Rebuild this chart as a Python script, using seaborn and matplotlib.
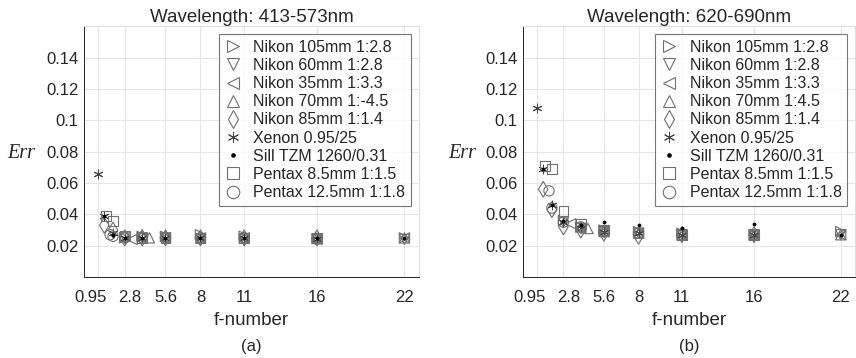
import numpy as np
import pandas as pd
import matplotlib
matplotlib.use("Agg")
import matplotlib.pyplot as plt
import matplotlib.transforms as mtransforms
import seaborn as sns
from matplotlib.lines import Line2D

sns.set_style("white")
plt.rcParams['font.family'] = ['Liberation Sans', 'DejaVu Sans']

# ---- data ----
lens_names = ["Nikon 105mm 1:2.8", "Nikon 60mm 1:2.8", "Nikon 35mm 1:3.3",
              "Nikon 70mm 1:4.5", "Nikon 85mm 1:1.4", "Xenon 0.95/25",
              "Sill TZM 1260/0.31", "Pentax 8.5mm 1:1.5", "Pentax 12.5mm 1:1.8"]
legend_a = ["Nikon 105mm 1:2.8", "Nikon 60mm 1:2.8", "Nikon 35mm 1:3.3",
            "Nikon 70mm 1:-4.5", "Nikon 85mm 1:1.4", "Xenon 0.95/25",
            "Sill TZM 1260/0.31", "Pentax 8.5mm 1:1.5", "Pentax 12.5mm 1:1.8"]

stops_n105 = [2.8, 4, 5.6, 8, 11, 16, 22]
stops_n60 = [2.8, 4, 5.6, 8, 11, 16, 22]
stops_n35 = [3.3, 4, 5.6, 8, 11, 16, 22]
stops_n70 = [4, 4.5, 5.6, 8, 11, 16, 22]
stops_n85 = [1.4, 2, 2.8, 4, 5.6, 8, 11, 16]
stops_xen = [0.95, 1.4, 2, 2.8, 4, 5.6, 8, 11, 16]
stops_sill = [1.4, 2, 2.8, 4, 5.6, 8, 11, 16, 22]
stops_p85 = [1.5, 2, 2.8, 4, 5.6, 8, 11, 16]
stops_p125 = [1.8, 2, 2.8, 4, 5.6, 8, 11, 16]

# Panel (a): 413-573nm
err_a_n105 = [0.025, 0.026, 0.026, 0.027, 0.026, 0.0245, 0.025]
err_a_n60 = [0.025, 0.025, 0.025, 0.024, 0.024, 0.024, 0.024]
err_a_n35 = [0.024, 0.025, 0.025, 0.025, 0.025, 0.024, 0.025]
err_a_n70 = [0.027, 0.025, 0.026, 0.025, 0.025, 0.025, 0.025]
err_a_n85 = [0.033, 0.030, 0.025, 0.025, 0.025, 0.025, 0.025, 0.025]
err_a_xen = [0.066, 0.039, 0.028, 0.025, 0.025, 0.025, 0.025, 0.025, 0.024]
err_a_sill = [0.039, 0.027, 0.025, 0.025, 0.025, 0.025, 0.025, 0.025, 0.025]
err_a_p85 = [0.039, 0.036, 0.026, 0.025, 0.025, 0.025, 0.025, 0.025]
err_a_p125 = [0.027, 0.026, 0.025, 0.025, 0.025, 0.025, 0.025, 0.024]

# Panel (b): 620-690nm
err_b_n105 = [0.036, 0.032, 0.030, 0.029, 0.028, 0.027, 0.029]
err_b_n60 = [0.035, 0.031, 0.029, 0.028, 0.027, 0.027, 0.027]
err_b_n35 = [0.034, 0.031, 0.029, 0.028, 0.027, 0.027, 0.027]
err_b_n70 = [0.032, 0.031, 0.029, 0.028, 0.027, 0.027, 0.027]
err_b_n85 = [0.056, 0.043, 0.032, 0.030, 0.028, 0.026, 0.027, 0.027]
err_b_xen = [0.108, 0.069, 0.046, 0.035, 0.031, 0.029, 0.028, 0.027, 0.027]
err_b_sill = [0.069, 0.046, 0.036, 0.033, 0.035, 0.033, 0.031, 0.034, 0.027]
err_b_p85 = [0.071, 0.069, 0.042, 0.034, 0.030, 0.028, 0.027, 0.027]
err_b_p125 = [0.055, 0.044, 0.035, 0.032, 0.029, 0.028, 0.027, 0.027]

xticks = [0.95, 2.8, 5.6, 8, 11, 16, 22]
xticklabels = ["0.95", "2.8", "5.6", "8", "11", "16", "22"]
yticks = [0.02, 0.04, 0.06, 0.08, 0.1, 0.12, 0.14]
yticklabels = ["0.02", "0.04", "0.06", "0.08", "0.1", "0.12", "0.14"]

stops = [stops_n105, stops_n60, stops_n35, stops_n70, stops_n85,
         stops_xen, stops_sill, stops_p85, stops_p125]
errs_a = [err_a_n105, err_a_n60, err_a_n35, err_a_n70, err_a_n85,
          err_a_xen, err_a_sill, err_a_p85, err_a_p125]
errs_b = [err_b_n105, err_b_n60, err_b_n35, err_b_n70, err_b_n85,
          err_b_xen, err_b_sill, err_b_p85, err_b_p125]

def make_df(errs):
    rows = []
    for name, st, ev in zip(lens_names, stops, errs):
        for f, e in zip(st, ev):
            rows.append((name, f, e))
    return pd.DataFrame(rows, columns=["lens", "f", "err"])

df_a = make_df(errs_a)
df_b = make_df(errs_b)

gray = "#707070"
styles = {
    "Nikon 105mm 1:2.8": dict(marker=">", s=55),
    "Nikon 60mm 1:2.8": dict(marker="v", s=55),
    "Nikon 35mm 1:3.3": dict(marker="<", s=55),
    "Nikon 70mm 1:4.5": dict(marker="^", s=55),
    "Nikon 85mm 1:1.4": dict(marker="d", s=65),
    "Xenon 0.95/25": dict(marker=(6, 2, 0), s=40),
    "Sill TZM 1260/0.31": dict(marker="o", s=5),
    "Pentax 8.5mm 1:1.5": dict(marker="s", s=50),
    "Pentax 12.5mm 1:1.8": dict(marker="o", s=55),
}

fig = plt.figure(figsize=(8.56, 3.58), dpi=100)
ax_a = fig.add_axes([0.098, 0.226, 0.3915, 0.701])
ax_b = fig.add_axes([0.611, 0.226, 0.388, 0.701])

def draw(ax, df, title, leg_labels, tag, err_x):
    for name in lens_names:
        st = styles[name]
        sub = df[df["lens"] == name]
        if name == "Sill TZM 1260/0.31":
            sns.scatterplot(data=sub, x="f", y="err", ax=ax, marker="o", s=st["s"],
                            color="black", edgecolor="black", linewidth=0.5,
                            legend=False, zorder=4)
        elif name == "Xenon 0.95/25":
            sns.scatterplot(data=sub, x="f", y="err", ax=ax, marker=st["marker"], s=st["s"],
                            color="#444444", linewidth=0.7, legend=False, zorder=3)
        else:
            sns.scatterplot(data=sub, x="f", y="err", ax=ax, marker=st["marker"], s=st["s"],
                            facecolor="none", edgecolor=gray, linewidth=0.8,
                            legend=False, zorder=3)
    ax.set_xlim(0, 23)
    ax.set_ylim(0, 0.16)
    ax.set_xticks(xticks)
    ax.set_xticklabels(xticklabels)
    ax.set_yticks(yticks)
    ax.set_yticklabels(yticklabels)
    ax.tick_params(axis="both", direction="in", length=3, labelsize=12,
                   colors="#262626", width=0.6)
    ax.tick_params(axis="x", pad=9)
    ax.tick_params(axis="y", pad=4)
    # nudge the crowded first two x labels apart
    labs = ax.get_xticklabels()
    labs[0].set_transform(labs[0].get_transform() +
                          mtransforms.ScaledTranslation(-7 / 100, 0, fig.dpi_scale_trans))
    labs[1].set_transform(labs[1].get_transform() +
                          mtransforms.ScaledTranslation(5 / 100, 0, fig.dpi_scale_trans))
    ax.grid(True, color="#e6e6e6", linewidth=0.8)
    ax.set_axisbelow(True)
    for side in ["left", "bottom"]:
        ax.spines[side].set_color("#262626")
        ax.spines[side].set_linewidth(0.7)
    for side in ["top", "right"]:
        ax.spines[side].set_color("#dddddd")
        ax.spines[side].set_linewidth(0.7)
    ax.set_xlabel("f-number", fontsize=13.5, color="#262626", labelpad=5)
    ax.set_ylabel("")
    ax.set_title(title, fontsize=13.5, color="#262626", pad=3)

    handles = []
    for name, lab in zip(lens_names, leg_labels):
        st = styles[name]
        if name == "Sill TZM 1260/0.31":
            h = Line2D([], [], linestyle="none", marker="o", markersize=2.3,
                       markerfacecolor="black", markeredgecolor="black", label=lab)
        elif name == "Xenon 0.95/25":
            h = Line2D([], [], linestyle="none", marker=(6, 2, 0), markersize=8,
                       markeredgecolor="#444444", markeredgewidth=0.7, label=lab)
        else:
            ms = 9
            h = Line2D([], [], linestyle="none", marker=st["marker"], markersize=ms,
                       markerfacecolor="none", markeredgecolor=gray,
                       markeredgewidth=0.8, label=lab)
        handles.append(h)
    leg = ax.legend(handles=handles, loc="upper right", bbox_to_anchor=(1, 1),
                    borderaxespad=0.5, fontsize=11.5, frameon=True, fancybox=False,
                    labelspacing=0.2, handlelength=1.0, handletextpad=0.8,
                    borderpad=0.35)
    leg.get_frame().set_edgecolor("#555555")
    leg.get_frame().set_linewidth(0.8)
    for t in leg.get_texts():
        t.set_color("#262626")

    pos = ax.get_position()
    fig.text(pos.x0 + pos.width / 2, 0.031, tag, ha="center", va="center",
             fontsize=12, color="#262626")
    fig.text(err_x, 1 - 153 / 358, "Err", ha="center", va="center",
             fontsize=14.5, style="italic", family=["Liberation Serif", "DejaVu Serif"],
             color="#262626")

draw(ax_a, df_a, "Wavelength: 413-573nm", legend_a, "(a)", 21 / 856)
draw(ax_b, df_b, "Wavelength: 620-690nm", lens_names, "(b)", 462 / 856)

fig.savefig("out.png", dpi=100)
